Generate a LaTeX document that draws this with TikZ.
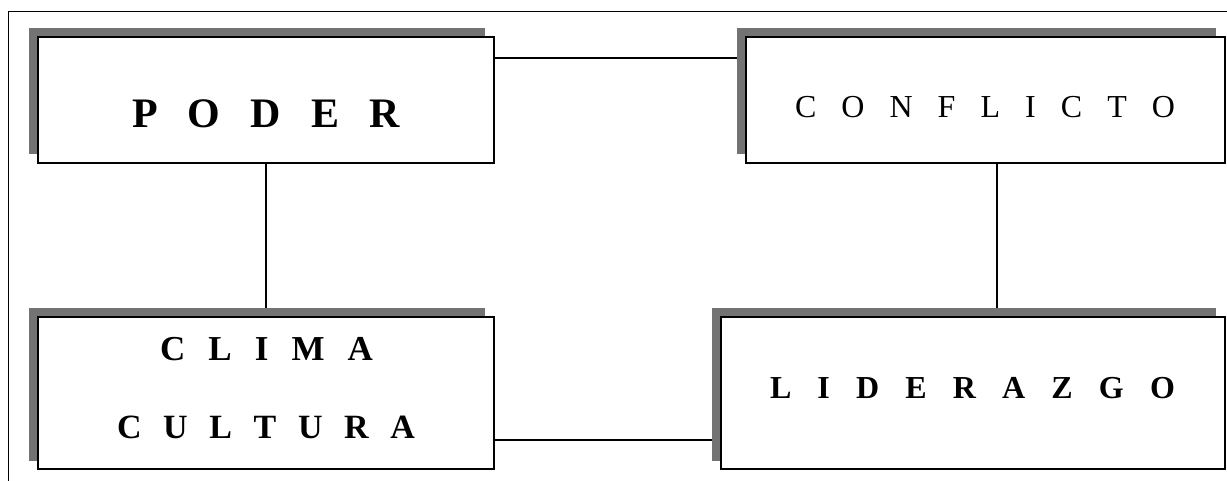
\documentclass[tikz,border=0pt]{standalone}
\usepackage{fontspec}
\setmainfont{Liberation Serif}
\usetikzlibrary{shadows,backgrounds}

\tikzset{
  box/.style={draw=black, fill=white, line width=1.2pt, inner sep=0pt, outer sep=0pt,
    general shadow={fill=black!55, shadow xshift=-9pt, shadow yshift=8.5pt}},
  conn/.style={draw=black, line width=1.1pt},
  frame/.style={draw=black, line width=1pt},
  lbl/.style={inner sep=0pt, outer sep=0pt, anchor=base, text=black}
}
% spread a word's letters evenly over a given width
\newcommand{\spreadword}[2]{\hbox to #1{#2}}

\begin{document}
\begin{tikzpicture}[x=1pt, y=-1pt]
  \useasboundingbox (0,0) rectangle (1227,481);
  \clip (0,0) rectangle (1227,481);

  % outer frame, running off the right and bottom edges
  \draw[frame] (8,500) |- (1240,12);

  % boxes
  \node[box, minimum width=456pt, minimum height=126pt] (poder) at (266,100) {};
  \node[box, minimum width=479pt, minimum height=126pt] (conflicto) at (985.5,100) {};
  \node[box, minimum width=456pt, minimum height=152pt] (clima) at (266,393) {};
  \node[box, minimum width=504pt, minimum height=152pt] (lider) at (973,393) {};

  % labels
  \node[lbl] (tpoder) at (266,128)
    {\fontsize{42}{42}\selectfont\bfseries\spreadword{268pt}{P\hfill O\hfill D\hfill E\hfill R}};
  \node[lbl] (tconflicto) at (985,118)
    {\fontsize{32}{32}\selectfont\spreadword{380pt}{C\hfill O\hfill N\hfill F\hfill L\hfill I\hfill C\hfill T\hfill O}};
  \node[lbl] (tclima) at (266.5,360)
    {\fontsize{35}{35}\selectfont\bfseries\spreadword{213pt}{C\hfill L\hfill I\hfill M\hfill A}};
  \node[lbl] (tcultura) at (266,438)
    {\fontsize{34}{34}\selectfont\bfseries\spreadword{298pt}{C\hfill U\hfill L\hfill T\hfill U\hfill R\hfill A}};
  \node[lbl] (tlider) at (972.5,398)
    {\fontsize{32}{32}\selectfont\bfseries\spreadword{405pt}{L\hfill I\hfill D\hfill E\hfill R\hfill A\hfill Z\hfill G\hfill O}};

  % connectors, drawn behind the boxes
  \begin{scope}[on background layer]
    \draw[conn] ([yshift=-21pt]poder.north east) -- ([yshift=-21pt]conflicto.north west);
    \draw[conn] (poder.south) -- (clima.north);
    \draw[conn] ([xshift=11.5pt]conflicto.south) -- ([xshift=11.5pt]conflicto.south |- lider.north);
    \draw[conn] ([yshift=-47pt]clima.east) -- ([yshift=-47pt]clima.east -| lider.west);
  \end{scope}
\end{tikzpicture}
\end{document}
